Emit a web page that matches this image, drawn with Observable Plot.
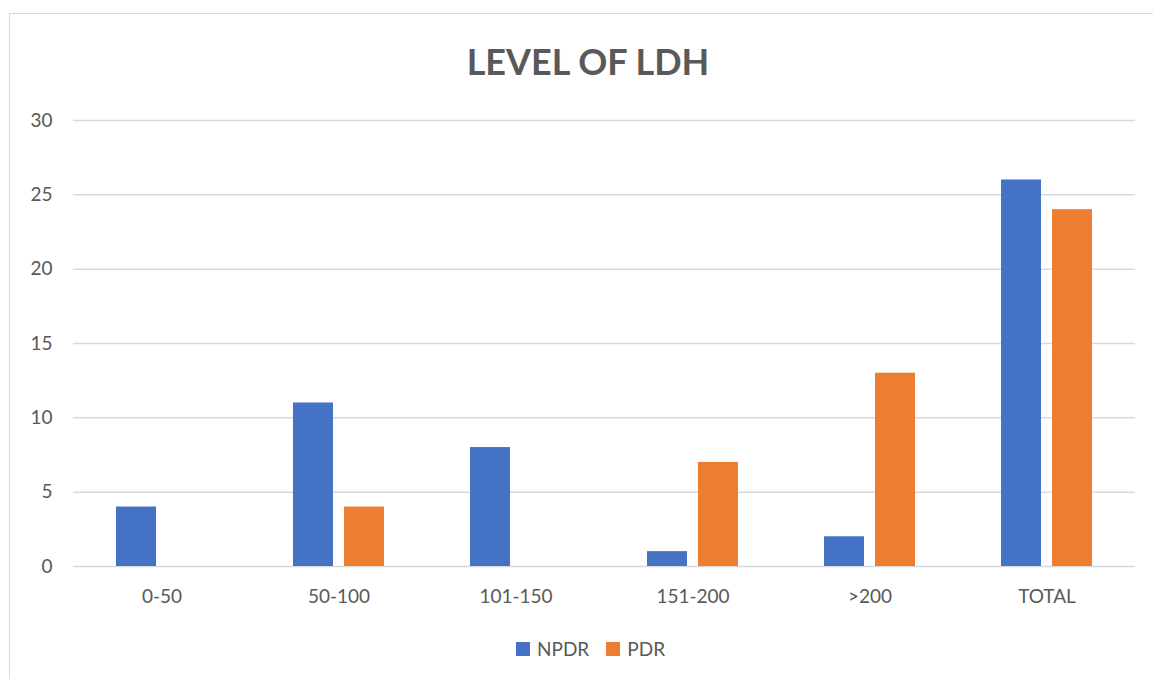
<!DOCTYPE html>
<html>
<head>
<meta charset="utf-8">
<script src="https://cdn.jsdelivr.net/npm/d3@7"></script>
<script src="https://cdn.jsdelivr.net/npm/@observablehq/plot@0.6"></script>
<style>
  html, body { margin: 0; padding: 0; background: #fff; }
  #wrap { position: relative; width: 1153px; height: 679px; overflow: hidden; font-family: Lato, "Open Sans", sans-serif; }
  #frame { position: absolute; left: 9px; top: 13px; width: 1160px; height: 700px; border: 1.5px solid #D9D9D9; box-sizing: border-box; }
  #title { position: absolute; left: 0; width: 1176px; top: 39px; text-align: center; font-size: 36px; font-weight: bold; color: #595959; }
  #chart { position: absolute; left: 0; top: 0; }
  #legend { position: absolute; top: 637px; left: 516px; display: flex; align-items: center; font-size: 19px; color: #595959; }
  .sw { display: inline-block; width: 14px; height: 14px; margin-right: 7px; }
  .item { display: flex; align-items: center; margin-right: 17px; }
</style>
</head>
<body>
<div id="wrap">
  <div id="frame"></div>
  <div id="title">LEVEL OF LDH</div>
  <div id="chart"></div>
  <div id="legend"></div>
</div>
<script>
const categories = ["0-50", "50-100", "101-150", "151-200", ">200", "TOTAL"];
const series = ["NPDR", "PDR"];
const npdr = [4, 11, 8, 1, 2, 26];
const pdr = [0, 4, 0, 7, 13, 24];
const colors = ["#4472C4", "#ED7D31"];
const yTicks = [0, 5, 10, 15, 20, 25, 30];

const data = [];
categories.forEach((c, i) => {
  data.push({category: c, series: "NPDR", value: npdr[i]});
  data.push({category: c, series: "PDR", value: pdr[i]});
});

const chart = Plot.plot({
  width: 1153,
  height: 679,
  marginLeft: 73,
  marginRight: 18,
  marginTop: 120,
  marginBottom: 113,
  style: {fontFamily: "Lato, 'Open Sans', sans-serif", fontSize: "19px", color: "#595959", background: "transparent"},
  fx: {domain: categories, paddingInner: 0, paddingOuter: 0, label: null, axis: "bottom", tickSize: 0, tickPadding: 23},
  x: {domain: series, paddingInner: 0.2157, paddingOuter: 0.843, axis: null},
  y: {domain: [0, 30], ticks: yTicks, label: null, tickSize: 0, tickPadding: 21},
  color: {domain: series, range: colors},
  marks: [
    Plot.gridY(yTicks, {stroke: "#D9D9D9", strokeOpacity: 1, strokeWidth: 1.5}),
    Plot.barY(data, {fx: "category", x: "series", y: "value", fill: "series"})
  ]
});
document.getElementById("chart").appendChild(chart);

const legend = document.getElementById("legend");
series.forEach((s, i) => {
  const it = document.createElement("div");
  it.className = "item";
  it.innerHTML = `<span class="sw" style="background:${colors[i]}"></span><span>${s}</span>`;
  legend.appendChild(it);
});
</script>
</body>
</html>
